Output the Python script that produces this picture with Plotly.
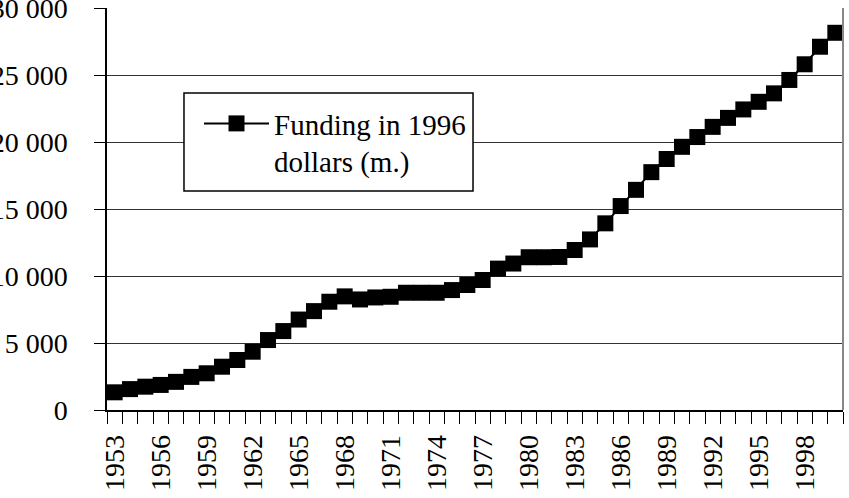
import plotly.graph_objects as go

years = list(range(1953, 2001))
funding = [1320, 1560, 1740, 1870, 2100, 2470, 2740, 3230, 3730, 4350,
           5220, 5890, 6750, 7380, 8080, 8480, 8250, 8400, 8450, 8750,
           8750, 8750, 8950, 9330, 9700, 10550, 10930, 11400, 11400, 11420,
           11940, 12730, 13930, 15220, 16430, 17750, 18730, 19640, 20370, 21130,
           21800, 22430, 23000, 23630, 24630, 25800, 27110, 28150]
series_name = "Funding in 1996<br>dollars (m.)"
y_ticks = [0, 5000, 10000, 15000, 20000, 25000, 30000]
y_labels = ["0", "5 000", "10 000", "15 000", "20 000", "25 000", "30 000"]
x_ticks = years[::3]
x_labels = [str(y) for y in x_ticks]

FONT = "Liberation Serif, Times New Roman, serif"
FS = 28

fig = go.Figure()
fig.add_trace(go.Scatter(
    x=years, y=funding, name=series_name, mode="lines+markers",
    line=dict(color="black", width=2),
    marker=dict(symbol="square", size=16, color="black"),
    showlegend=True,
))

fig.update_layout(
    width=849, height=498,
    margin=dict(l=107, r=6, t=8, b=88),
    paper_bgcolor="white", plot_bgcolor="white",
    font=dict(family=FONT, size=FS, color="black"),
    showlegend=True,
    legend=dict(
        x=0.125, y=0.776, xanchor="left", yanchor="top",
        bgcolor="rgba(0,0,0,0)", borderwidth=0,
        font=dict(family=FONT, size=29, color="black"),
        itemwidth=65, valign="top",
    ),
    xaxis=dict(
        automargin=False,
        range=[1952.5, 2000.5],
        tickvals=x_ticks, ticktext=x_labels, tickangle=-90,
        ticks="outside", ticklen=12, tickcolor="rgba(0,0,0,0)",
        showline=True, linecolor="black", linewidth=1.5,
        showgrid=False, zeroline=False,
        minor=dict(ticks="outside", ticklen=12, tick0=1952.5, dtick=1,
                   tickcolor="black", tickwidth=1.3, showgrid=False),
        tickfont=dict(family=FONT, size=FS, color="black"),
    ),
    yaxis=dict(
        automargin=False,
        ticklabeloverflow="allow",
        range=[0, 30000],
        tickvals=y_ticks, ticktext=y_labels,
        ticks="outside", ticklen=11, tickcolor="black", tickwidth=1.3,
        showline=True, linecolor="black", linewidth=1.5,
        showgrid=True, gridcolor="#333333", gridwidth=1.3,
        zeroline=False,
        ticklabelstandoff=21,
        tickfont=dict(family=FONT, size=FS, color="black"),
    ),
    shapes=[
        dict(type="line", xref="paper", yref="paper", x0=1, x1=1, y0=0, y1=1,
             line=dict(color="#888888", width=2)),
        dict(type="rect", xref="paper", yref="paper", layer="above",
             x0=0.1046, x1=0.4973, y0=0.5448, y1=0.7886,
             fillcolor="white", line=dict(color="black", width=1.5)),
    ],
)

fig.write_html("out.html")
